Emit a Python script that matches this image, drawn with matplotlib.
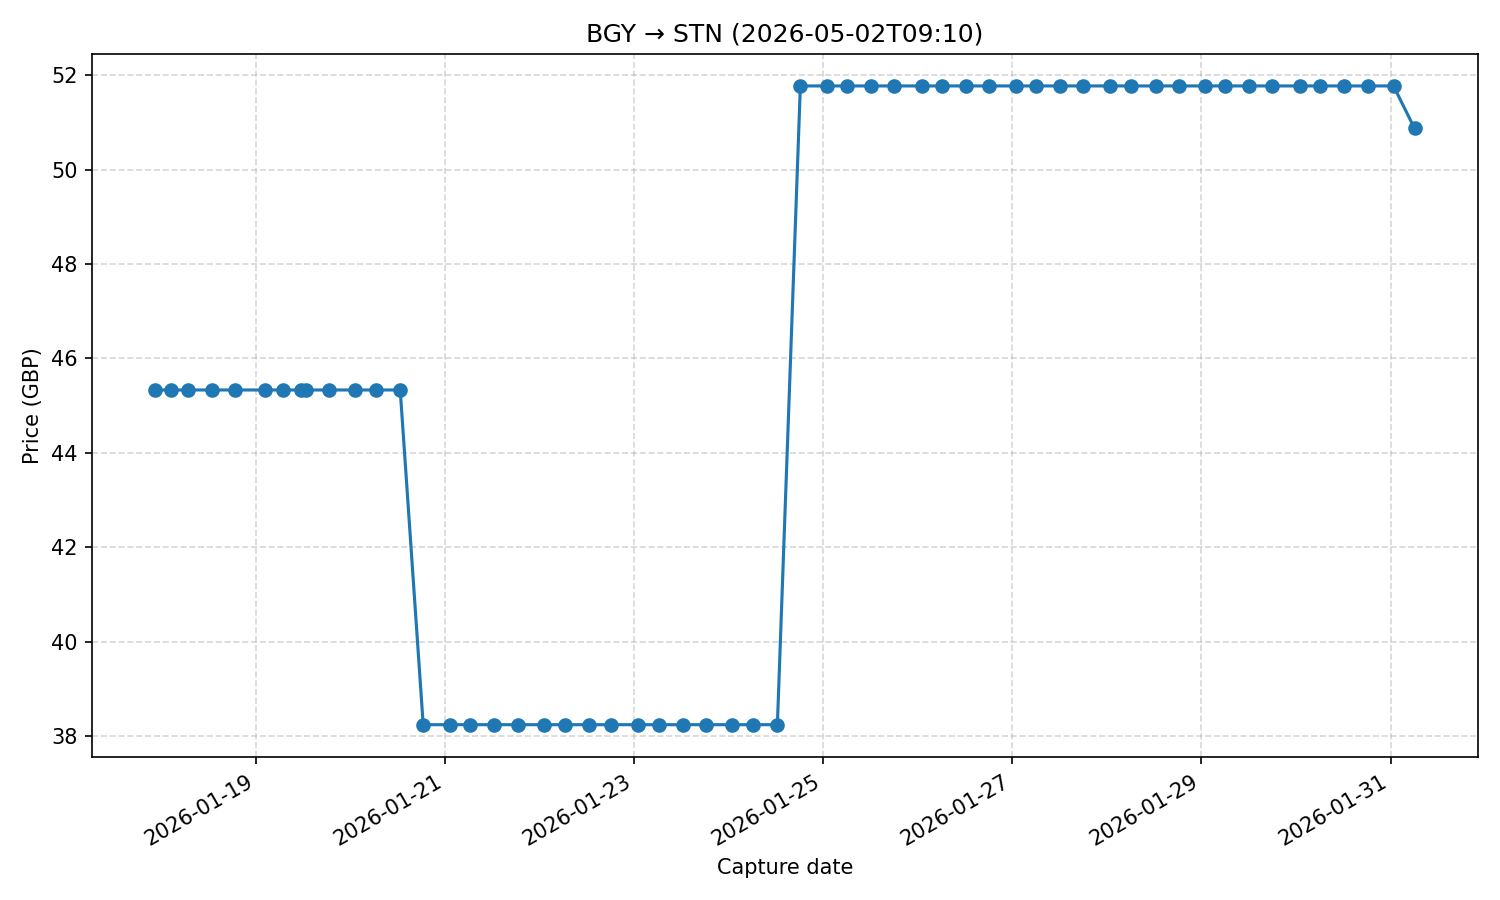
import pandas as pd
import matplotlib
matplotlib.use('Agg')
import matplotlib.pyplot as plt
import matplotlib.dates as mdates

captures = [
    '2026-01-17 22:20', '2026-01-18 02:25', '2026-01-18 06:45', '2026-01-18 12:50', '2026-01-18 18:40',
    '2026-01-19 02:20', '2026-01-19 06:50', '2026-01-19 11:25', '2026-01-19 12:40', '2026-01-19 18:30',
    '2026-01-20 01:10', '2026-01-20 06:30', '2026-01-20 12:35',
    '2026-01-20 18:25', '2026-01-21 01:15', '2026-01-21 06:20', '2026-01-21 12:25', '2026-01-21 18:30',
    '2026-01-22 01:10', '2026-01-22 06:30', '2026-01-22 12:35', '2026-01-22 18:10',
    '2026-01-23 01:00', '2026-01-23 06:20', '2026-01-23 12:25', '2026-01-23 18:20',
    '2026-01-24 00:55', '2026-01-24 06:15', '2026-01-24 12:20',
    '2026-01-24 18:10', '2026-01-25 01:00', '2026-01-25 06:05', '2026-01-25 12:10', '2026-01-25 18:00',
    '2026-01-26 01:05', '2026-01-26 06:10', '2026-01-26 12:20', '2026-01-26 18:10',
    '2026-01-27 01:00', '2026-01-27 06:05', '2026-01-27 12:10', '2026-01-27 18:00',
    '2026-01-28 00:40', '2026-01-28 06:00', '2026-01-28 12:20', '2026-01-28 18:10',
    '2026-01-29 01:00', '2026-01-29 06:05', '2026-01-29 12:10', '2026-01-29 18:00',
    '2026-01-30 00:55', '2026-01-30 06:10', '2026-01-30 12:05', '2026-01-30 18:10',
    '2026-01-31 00:45', '2026-01-31 06:05',
]
prices = [45.33] * 13 + [38.24] * 16 + [51.77] * 26 + [50.87]

dates = pd.to_datetime(captures)

fig, ax = plt.subplots(figsize=(10, 6), dpi=150)
ax.plot(dates, prices, marker='o', color='#1f77b4')
ax.set_title('BGY → STN (2026-05-02T09:10)')
ax.set_xlabel('Capture date')
ax.set_ylabel('Price (GBP)')
ax.grid(True, linestyle='--', alpha=0.5)
ax.xaxis.set_major_locator(mdates.DayLocator(bymonthday=range(1, 32, 2)))
ax.xaxis.set_major_formatter(mdates.DateFormatter('%Y-%m-%d'))
fig.autofmt_xdate()
fig.tight_layout()
fig.savefig('out.png')
